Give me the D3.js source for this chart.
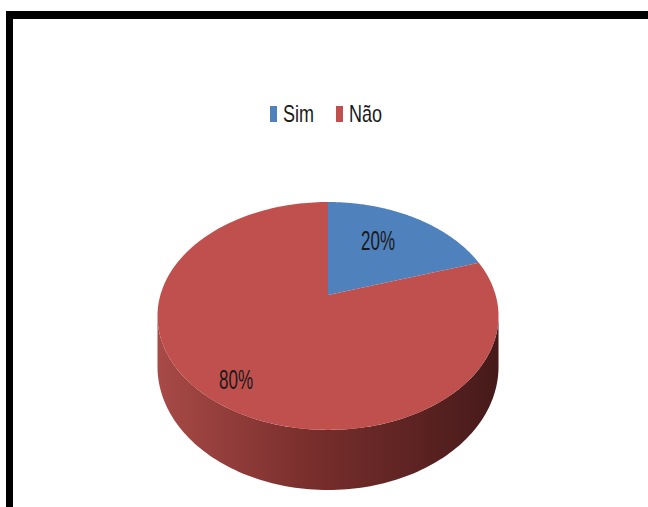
<!DOCTYPE html>
<html>
<head>
<meta charset="utf-8">
<script src="https://cdn.jsdelivr.net/npm/d3@7"></script>
<style>
  html, body { margin: 0; padding: 0; background: #fff; }
  svg { display: block; }
</style>
</head>
<body>
<svg id="chart" width="648" height="507"></svg>
<script>
// ---- data ----
const categories = ["Sim", "Não"];
const values = [20, 80];
const labels = ["20%", "80%"];
const colors = ["#4F81BD", "#C0504D"];

const svg = d3.select("#chart");
const W = 648, H = 507;

// frame (top and left thick black border)
svg.append("rect").attr("x", 6).attr("y", 11).attr("width", W - 6).attr("height", 8).attr("fill", "#000");
svg.append("rect").attr("x", 6).attr("y", 11).attr("width", 7).attr("height", H - 11).attr("fill", "#000");

// 3D perspective pie geometry
const cx = 328, cy = 295;   // projected centre of pie top
const a = 167.6, b = 110.1; // radii
const p = 0.184;            // perspective factor
const h0 = 49;              // depth

function proj(t, z) {
  const u = Math.sin(t), v = -Math.cos(t);
  const w = 1 / (1 - p * v);
  return [cx + a * u * w, cy + b * v * w + z * h0 * w];
}

const pie = d3.pie().sort(null).value(d => d.value).startAngle(0).endAngle(2 * Math.PI);
const arcs = pie(categories.map((c, i) => ({ cat: c, value: values[i], label: labels[i], color: colors[i] })));

const line = d3.line();
const defs = svg.append("defs");
const grad = defs.append("linearGradient").attr("id", "sideGrad")
  .attr("gradientUnits", "userSpaceOnUse")
  .attr("x1", cx - a * 1.02).attr("x2", cx + a * 1.02).attr("y1", 0).attr("y2", 0);
grad.append("stop").attr("offset", 0).attr("stop-color", "#a84a47");
grad.append("stop").attr("offset", 0.45).attr("stop-color", "#782e2c");
grad.append("stop").attr("offset", 1).attr("stop-color", "#461a1a");

// side (front visible part)
const tR = Math.acos(-p), tL = 2 * Math.PI - tR;
arcs.forEach(d => {
  const s = Math.max(d.startAngle, tR), e = Math.min(d.endAngle, tL);
  if (e <= s) return;
  const N = 120;
  const pts = [];
  for (let i = 0; i <= N; i++) pts.push(proj(s + (e - s) * i / N, 0));
  for (let i = N; i >= 0; i--) pts.push(proj(s + (e - s) * i / N, 1));
  svg.append("path").attr("d", line(pts) + "Z").attr("fill", "url(#sideGrad)");
});

// top faces
arcs.forEach(d => {
  const N = 200;
  const pts = [[cx, cy]];
  for (let i = 0; i <= N; i++) pts.push(proj(d.startAngle + (d.endAngle - d.startAngle) * i / N, 0));
  svg.append("path").attr("d", line(pts) + "Z").attr("fill", d.data.color);
});

// data labels
const labelPos = [[378, 250], [236, 389]];
arcs.forEach((d, i) => {
  svg.append("text")
    .attr("transform", `translate(${labelPos[i][0]},${labelPos[i][1]}) scale(1,1.6)`)
    .attr("text-anchor", "middle")
    .attr("font-family", "Liberation Sans, Arial, sans-serif")
    .attr("font-size", 17)
    .attr("fill", "#1a1a1a")
    .text(d.data.label);
});

// legend
const legendX = [270, 336];
categories.forEach((c, i) => {
  const g = svg.append("g");
  g.append("rect").attr("x", legendX[i]).attr("y", 106).attr("width", 7).attr("height", 16).attr("fill", colors[i]);
  g.append("text")
    .attr("transform", `translate(${legendX[i] + 13},122) scale(1,1.3)`)
    .attr("font-family", "Liberation Sans, Arial, sans-serif")
    .attr("font-size", 18)
    .attr("fill", "#1a1a1a")
    .text(c);
});
</script>
</body>
</html>
